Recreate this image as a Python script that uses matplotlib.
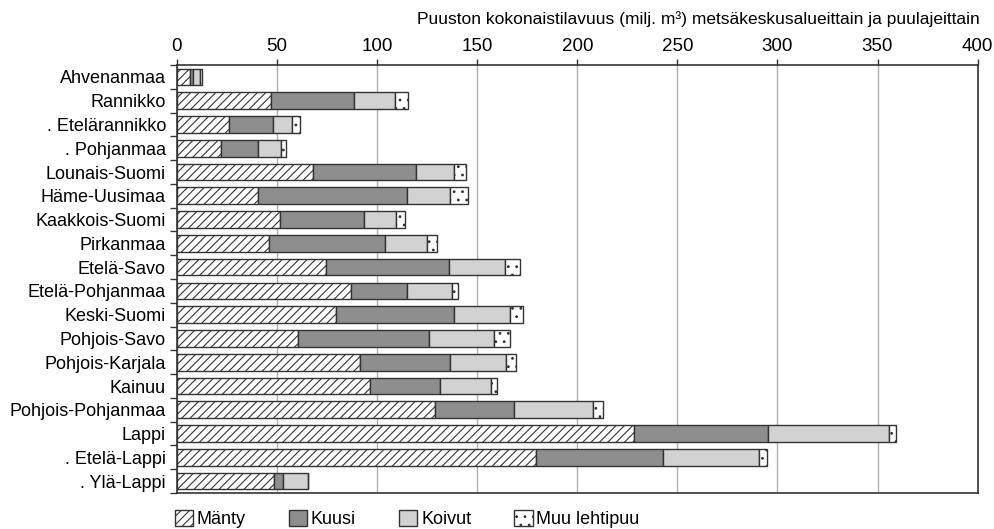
import matplotlib.pyplot as plt
import matplotlib as mpl
import numpy as np

plt.rcParams['font.family'] = ['Liberation Sans', 'DejaVu Sans']
mpl.rcParams['hatch.linewidth'] = 0.8

# DATA.
regions = ["Ahvenanmaa", "Rannikko", ". Etelärannikko", ". Pohjanmaa", "Lounais-Suomi",
           "Häme-Uusimaa", "Kaakkois-Suomi", "Pirkanmaa", "Etelä-Savo", "Etelä-Pohjanmaa",
           "Keski-Suomi", "Pohjois-Savo", "Pohjois-Karjala", "Kainuu", "Pohjois-Pohjanmaa",
           "Lappi", ". Etelä-Lappi", ". Ylä-Lappi"]
manty = [6.3, 46.9, 26.2, 22.0, 67.7, 40.7, 51.3, 46.2, 74.2, 87.1,
         79.4, 60.3, 91.5, 96.6, 128.8, 228.3, 179.5, 48.6]
kuusi = [1.7, 41.6, 21.8, 18.6, 51.5, 74.0, 42.3, 57.5, 61.5, 27.7,
         59.1, 65.4, 44.9, 34.8, 39.7, 66.8, 63.4, 4.3]
koivut = [3.3, 20.2, 9.3, 11.6, 19.3, 21.8, 16.0, 21.2, 28.3, 22.7,
          27.7, 32.5, 27.8, 25.3, 39.4, 60.5, 48.0, 12.5]
muu = [1.2, 6.5, 4.3, 2.2, 6.0, 8.7, 4.4, 5.1, 7.4, 2.8,
       6.7, 8.0, 5.0, 3.0, 5.1, 3.6, 3.8, 0.3]

series = [("Mänty", manty, "white", "////"),
          ("Kuusi", kuusi, "#8e8e8e", None),
          ("Koivut", koivut, "#d2d2d2", None),
          ("Muu lehtipuu", muu, "white", "..")]

edge = "#333333"

fig = plt.figure(figsize=(9.95, 5.29), dpi=100)
ax = fig.add_axes([177 / 995, 1 - 493 / 529, 800.6 / 995, 428 / 529])

y = np.arange(len(regions))
left = np.zeros(len(regions))
handles = []
for name, vals, col, hatch in series:
    b = ax.barh(y, vals, left=left, height=0.7, color=col, edgecolor=edge,
                linewidth=1.0, hatch=hatch, label=name, zorder=3)
    left += np.array(vals)
    handles.append(b)

ax.set_xlim(0, 400)
ax.set_ylim(len(regions) - 0.5, -0.5)
ax.xaxis.tick_top()
ax.set_xticks(np.arange(0, 401, 50))
ax.tick_params(axis="x", length=4, width=1, color=edge, labelsize=13.5, pad=3)
ax.grid(axis="x", color="#b0b0b0", lw=1, zorder=0)

ax.set_yticks(y)
ax.set_yticklabels(regions, fontsize=13)
ax.tick_params(axis="y", which="major", length=0, pad=8)
ax.set_yticks(np.arange(-0.5, len(regions), 1), minor=True)
ax.tick_params(axis="y", which="minor", length=5, width=1, color=edge)

for s in ax.spines.values():
    s.set_color(edge)
    s.set_linewidth(1.2)

fig.text(980 / 995, 1 - 19 / 529, "Puuston kokonaistilavuus (milj. m³) metsäkeskusalueittain ja puulajeittain",
         ha="right", va="center", fontsize=12.5)

fig.legend(handles=handles, loc="center left", bbox_to_anchor=(168 / 995, 1 - 519 / 529), ncol=4,
           frameon=False, fontsize=13, handlelength=1.0, handleheight=1.0,
           handletextpad=0.2, borderaxespad=0, columnspacing=2.4)

plt.savefig("out.png", dpi=100)
